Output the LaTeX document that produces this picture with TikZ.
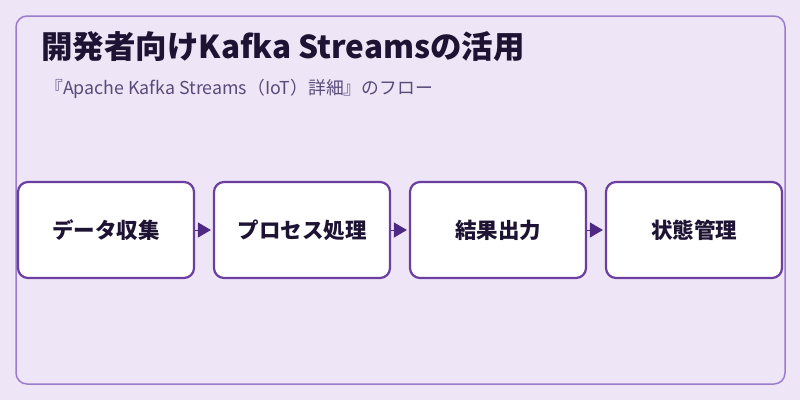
\documentclass[tikz,border=0pt]{standalone}
\usepackage{fontspec}
\setmainfont{Noto Sans CJK JP}
\usetikzlibrary{arrows.meta}
\definecolor{bgcol}{HTML}{EEE6F6}
\definecolor{framecol}{HTML}{9B7DCB}
\definecolor{boxcol}{HTML}{6A3FA0}
\definecolor{arrowcol}{HTML}{4E2A84}
\definecolor{titlecol}{HTML}{1E1333}
\definecolor{subcol}{HTML}{5A4A7A}
\tikzset{
    stagebox/.style = {draw = boxcol, line width = 2.2pt, fill = white, rounded corners = 10pt,
        minimum width = 176pt, minimum height = 96pt, inner sep = 0pt,
        font = \fontsize{21.5}{24}\selectfont\bfseries, text = titlecol},
    flowarrow/.style = {-{Triangle[length = 13pt, width = 15pt]}, arrowcol, line width = 1pt, shorten > = 2pt}
}
\begin{document}
\begin{tikzpicture}[x = 1pt, y = -1pt]
        \fill[bgcol] (0, 0) rectangle (800, 400);
        \useasboundingbox (0, 0) rectangle (800, 400);
        \draw[framecol, line width = 1.5pt, rounded corners = 11pt] (16, 16) rectangle (785, 384);
        \node[anchor = west, inner sep = 0pt, text = titlecol, font = \fontsize{31.5}{34}\selectfont\bfseries] (title) at (41, 47) {開発者向けKafka Streamsの活用};
        \node[anchor = west, inner sep = 0pt, text = subcol, font = \fontsize{17.8}{20}\selectfont] (subtitle) at (45, 89) {『Apache Kafka Streams（IoT）詳細』のフロー};
        % stages
        \foreach \i/\label in {1/データ収集, 2/プロセス処理, 3/結果出力, 4/状態管理} {
            \node[stagebox] (stage\i) at ({106 + 196*(\i - 1)}, 230) {\label};
        }
        \foreach \i/\j in {1/2, 2/3, 3/4} {
            \draw[flowarrow] (stage\i) -- (stage\j);
        }
    \end{tikzpicture}
\end{document}
